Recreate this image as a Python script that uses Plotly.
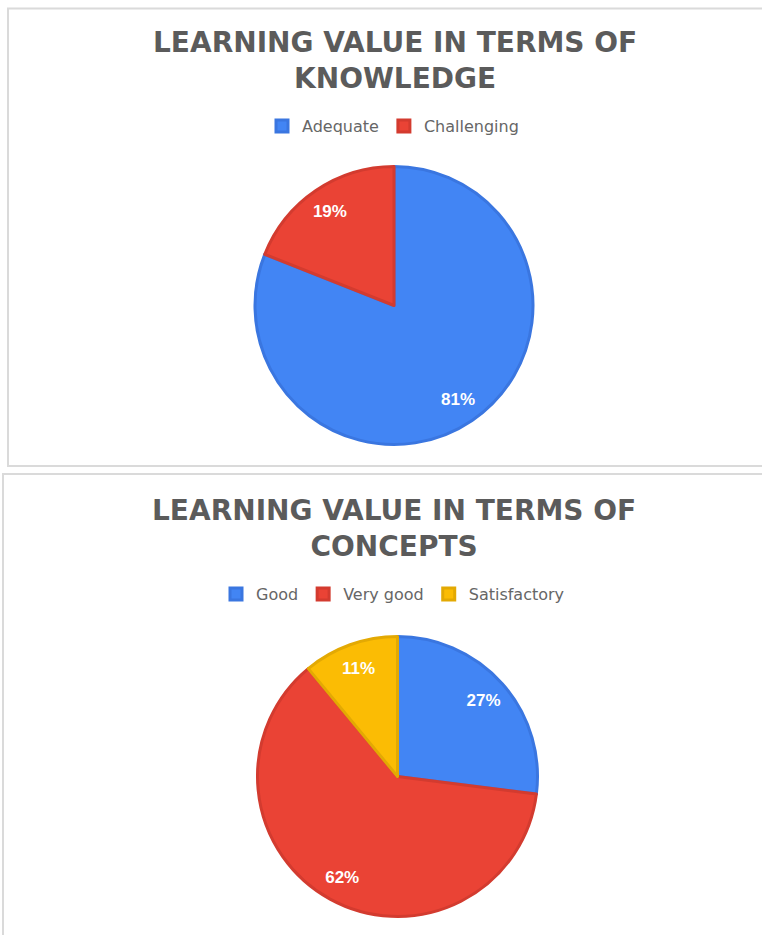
import plotly.graph_objects as go

# ---- data ----
knowledge_labels = ["Adequate", "Challenging"]
knowledge_values = [81, 19]
knowledge_colors = ["#4285F4", "#EA4335"]
knowledge_edges = ["#3A76E0", "#D33B2F"]

concept_labels = ["Good", "Very good", "Satisfactory"]
concept_values = [27, 62, 11]
concept_colors = ["#4285F4", "#EA4335", "#FBBC04"]
concept_edges = ["#3A76E0", "#D33B2F", "#E3A903"]

title_top = "LEARNING VALUE IN TERMS OF<br>KNOWLEDGE"
title_bottom = "LEARNING VALUE IN TERMS OF<br>CONCEPTS"

W, H = 762, 935

def px_x(x):
    return x / W

def px_y(y):
    return 1 - y / H

top_domain = dict(x=[px_x(255), px_x(533)], y=[px_y(444.5), px_y(166.5)])
bot_domain = dict(x=[px_x(257.5), px_x(537.5)], y=[px_y(916.5), px_y(636.5)])

label_font = dict(family="Liberation Sans, Arial, sans-serif", size=17, color="white", weight="bold")

fig = go.Figure()

def add_pie(labels, values, colors, edges, domain, legend):
    fig.add_trace(go.Pie(
        labels=labels, values=values, domain=domain, sort=False,
        direction="clockwise", rotation=0,
        marker=dict(colors=colors, line=dict(color=edges, width=3)),
        textinfo="none", hoverinfo="label+percent", legend=legend,
    ))
    # transparent ring overlay that only carries the percentage labels
    fig.add_trace(go.Pie(
        labels=labels, values=values, domain=domain, sort=False,
        direction="clockwise", rotation=0, hole=0.64,
        marker=dict(colors=["rgba(0,0,0,0)"] * len(labels), line=dict(width=0)),
        texttemplate="%{percent:.0%}", textposition="inside",
        insidetextorientation="horizontal", textfont=label_font,
        hoverinfo="skip", showlegend=False, legend=legend,
    ))

add_pie(knowledge_labels, knowledge_values, knowledge_colors, knowledge_edges, top_domain, "legend")
add_pie(concept_labels, concept_values, concept_colors, concept_edges, bot_domain, "legend2")

title_font = dict(family="DejaVu Sans, Arial, sans-serif", size=28, color="#5B5B5B", weight="bold")
legend_font = dict(family="DejaVu Sans, Arial, sans-serif", size=16, color="#666666")

fig.update_layout(
    width=W, height=H,
    margin=dict(l=0, r=0, t=0, b=0),
    paper_bgcolor="white", plot_bgcolor="white",
    annotations=[
        dict(text=title_top, x=px_x(395), y=px_y(60), xref="paper", yref="paper",
             xanchor="center", yanchor="middle", showarrow=False, font=title_font),
        dict(text=title_bottom, x=px_x(394), y=px_y(528), xref="paper", yref="paper",
             xanchor="center", yanchor="middle", showarrow=False, font=title_font),
    ],
    legend=dict(orientation="h", x=px_x(393), y=px_y(126), xanchor="center", yanchor="middle",
                font=legend_font, bgcolor="rgba(0,0,0,0)", itemwidth=30),
    legend2=dict(orientation="h", x=px_x(393), y=px_y(594), xanchor="center", yanchor="middle",
                 font=legend_font, bgcolor="rgba(0,0,0,0)", itemwidth=30),
    shapes=[
        dict(type="rect", xref="paper", yref="paper", x0=px_x(8), x1=px_x(775),
             y0=px_y(466), y1=px_y(8.5), line=dict(color="#DADADA", width=2), layer="below"),
        dict(type="rect", xref="paper", yref="paper", x0=px_x(3), x1=px_x(775),
             y0=px_y(945), y1=px_y(474), line=dict(color="#DADADA", width=2), layer="below"),
    ],
)

fig.write_html(
    "out.html",
    config={"displayModeBar": False},
    post_script="document.body.style.margin='0';document.body.style.overflow='hidden';",
)
